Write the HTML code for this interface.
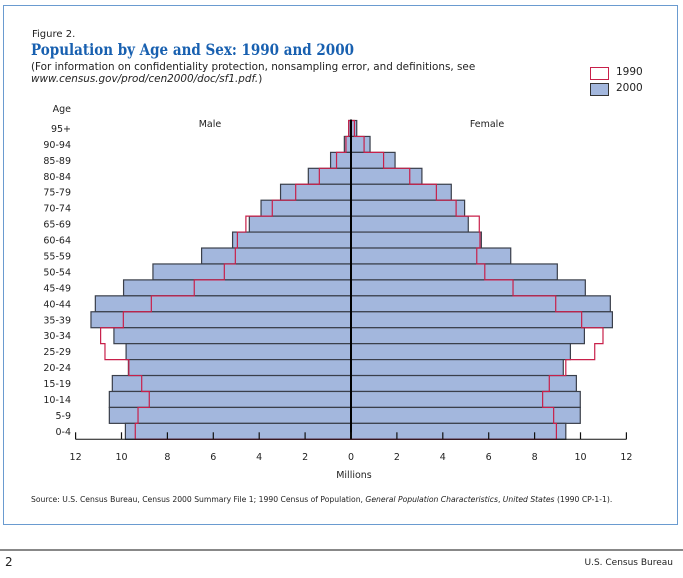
<!DOCTYPE html>
<html><head><meta charset="utf-8"><style>
body{margin:0;background:#fff;font-family:"DejaVu Sans","Liberation Sans",sans-serif;}
#wrap{position:relative;width:683px;height:578px;overflow:hidden;}
.t{position:absolute;white-space:nowrap;color:#222;}
</style></head><body>
<div id="wrap">
<div style="position:absolute;left:3px;top:5px;width:673px;height:518px;border:1.5px solid #6a9bd0;"></div>
<div class="t" style="left:32px;top:29px;font-size:10px;">Figure 2.</div>
<div class="t" style="left:31px;top:40px;font-size:15.5px;font-weight:bold;color:#1860b0;font-family:'DejaVu Serif','Liberation Serif',serif;transform:scaleX(0.87);transform-origin:left top;">Population by Age and Sex:  1990 and 2000</div>
<div class="t" style="left:31px;top:61px;font-size:10.4px;line-height:12px;">(For information on confidentiality protection, nonsampling error, and definitions, see<br><i>www.census.gov/prod/cen2000/doc/sf1.pdf.</i>)</div>
<div style="position:absolute;left:590px;top:67px;width:17px;height:11px;border:1.3px solid #c8204a;background:#fff;"></div>
<div class="t" style="left:616px;top:66px;font-size:10.5px;">1990</div>
<div style="position:absolute;left:590px;top:83px;width:17px;height:11px;border:1.3px solid #333;background:#a3b7dd;"></div>
<div class="t" style="left:616px;top:82px;font-size:10.5px;">2000</div>
<svg id="chart" width="683" height="578" style="position:absolute;left:0;top:0;font-family:'DejaVu Sans','Liberation Sans',sans-serif;"></svg>
<div class="t" style="left:31px;top:495px;font-size:7.65px;">Source:  U.S. Census Bureau, Census 2000 Summary File 1; 1990 Census of Population, <i>General Population Characteristics</i>, <i>United States</i> (1990 CP-1-1).</div>
<div style="position:absolute;left:0;top:549px;width:683px;height:2px;background:#888;"></div>
<div class="t" style="left:5px;top:555px;font-size:12px;">2</div>
<div class="t" style="right:10px;top:558px;font-size:9px;">U.S. Census Bureau</div>
</div>
<script>
const ages=["95+","90-94","85-89","80-84","75-79","70-74","65-69","60-64","55-59","50-54","45-49","40-44","35-39","30-34","25-29","20-24","15-19","10-14","5-9","0-4"];
const male2000=[0.1,0.29,0.89,1.86,3.07,3.92,4.43,5.16,6.51,8.63,9.91,11.14,11.33,10.33,9.80,9.70,10.4,10.53,10.53,9.83];
const male1990=[0.1,0.22,0.63,1.38,2.41,3.43,4.58,4.95,5.04,5.52,6.83,8.70,9.92,10.91,10.72,9.68,9.12,8.79,9.28,9.40];
const female2000=[0.25,0.83,1.92,3.09,4.37,4.95,5.11,5.68,6.96,8.99,10.21,11.3,11.39,10.17,9.56,9.25,9.82,9.99,9.99,9.36];
const female1990=[0.15,0.57,1.42,2.56,3.72,4.58,5.59,5.62,5.48,5.83,7.06,8.92,10.05,10.98,10.62,9.36,8.64,8.35,8.83,8.95];
const ticks=[12,10,8,6,4,2,0,2,4,6,8,10,12];
const NS="http://www.w3.org/2000/svg";
const svg=document.getElementById('chart');
const cx=351, pxu=22.95, top0=120.5, rowH=(439.3-120.5)/ages.length, baseY=439.3;
function xm(v){return cx-v*pxu;}
function xf(v){return cx+v*pxu;}
function yr(i){return top0+i*rowH;}
function mk(tag,attrs){const e=document.createElementNS(NS,tag);for(const k in attrs)e.setAttribute(k,attrs[k]);svg.appendChild(e);return e;}
let a=mk('text',{x:71,y:112,'font-size':9.5,'text-anchor':'end',fill:'#222'});a.textContent='Age';


let ml=mk('text',{x:210,y:127,'font-size':9.5,'text-anchor':'middle',fill:'#222'});ml.textContent='Male';


let fl=mk('text',{x:487,y:127,'font-size':9.5,'text-anchor':'middle',fill:'#222'});fl.textContent='Female';


ages.forEach((g,i)=>{
 const y=yr(i);
 const t=mk('text',{x:71,y:y+rowH/2+3.5,'font-size':9.5,'text-anchor':'end',fill:'#222'});t.textContent=g;
 
 
 const bm=mk('rect',{x:xm(male2000[i]),y:y,width:male2000[i]*pxu,height:rowH,fill:'#a3b7dd',stroke:'#3a3f4a','stroke-width':1.2});
 
 
 const bf=mk('rect',{x:cx,y:y,width:female2000[i]*pxu,height:rowH,fill:'#a3b7dd',stroke:'#3a3f4a','stroke-width':1.2});
 
 
});
function stepPath(vals,fx){
 let d='M'+cx+' '+yr(0)+' L'+fx(vals[0])+' '+yr(0);
 vals.forEach((v,i)=>{d+=' L'+fx(v)+' '+yr(i)+' L'+fx(v)+' '+yr(i+1);});
 d+=' L'+cx+' '+yr(vals.length);
 return d;
}
const pm=mk('path',{d:stepPath(male1990,xm),fill:'none',stroke:'#c8204a','stroke-width':1.2});


const pf=mk('path',{d:stepPath(female1990,xf),fill:'none',stroke:'#c8204a','stroke-width':1.2});


const ctr=mk('line',{x1:cx,y1:top0-1,x2:cx,y2:baseY,stroke:'#000','stroke-width':2});


const xa=mk('line',{x1:xm(12),y1:baseY,x2:xf(12),y2:baseY,stroke:'#111','stroke-width':1});


ticks.forEach((v,i)=>{
 const x=i<6?xm(v):xf(v);
 const tk=mk('line',{x1:x,y1:baseY-7,x2:x,y2:baseY,stroke:'#111','stroke-width':1.2});
 
 
 const tl=mk('text',{x:x,y:460,'font-size':9.5,'text-anchor':'middle',fill:'#222'});tl.textContent=v;
 
 
});
const xt=mk('text',{x:cx+3,y:478,'font-size':9.5,'text-anchor':'middle',fill:'#222'});xt.textContent='Millions';


</script>
</body></html>
